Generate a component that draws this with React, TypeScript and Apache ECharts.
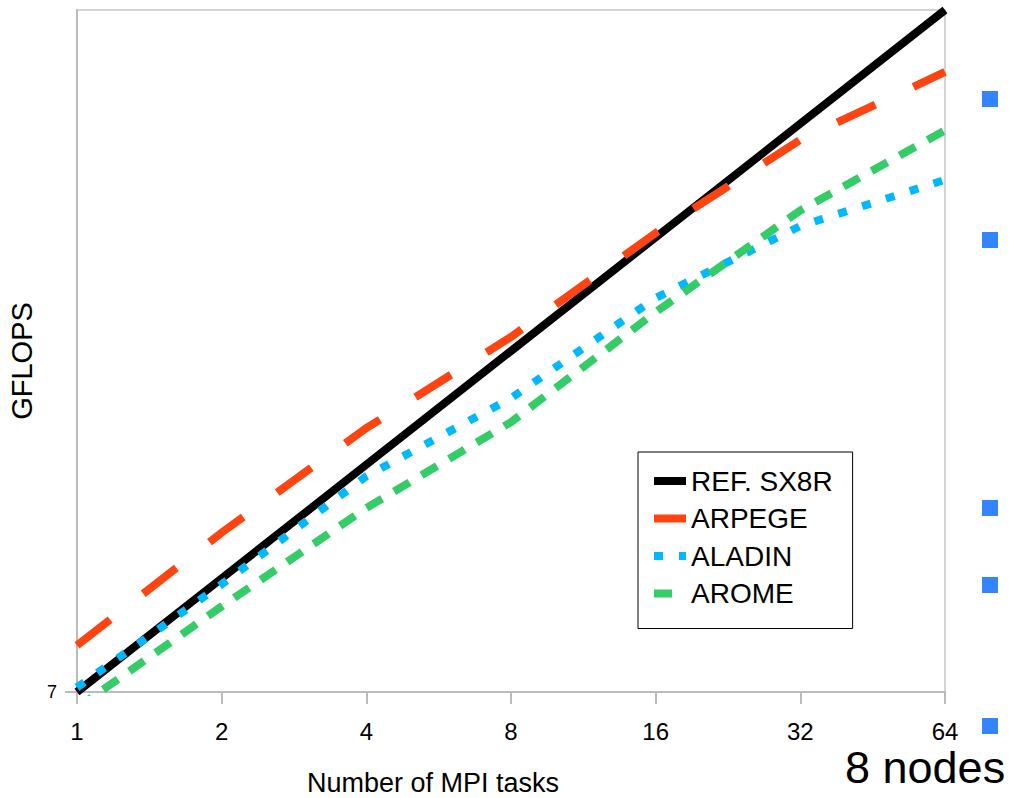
import React, { useEffect, useRef } from "react";
import * as echarts from "echarts";

const tasks = [1, 2, 4, 8, 16, 32, 64];
const refSX8R = [7, 14, 28, 56, 112, 224, 448];
const arpege = [9.3, 18.5, 35.0, 61.0, 115.0, 203.0, 307.0];
const aladin = [7.2, 13.5, 26.1, 42.0, 77.4, 120.0, 159.0];
const arome = [6.35, 11.8, 21.5, 36.3, 71.0, 132.0, 215.0];
const xTickLabels = [1, 2, 4, 8, 16, 32, 64];
const yTickLabels = [7];
const seriesNames = ["REF. SX8R", "ARPEGE", "ALADIN", "AROME"];
const markerRowsY = [99, 240, 508, 585, 726];

const FONT = "Liberation Sans, Arial, sans-serif";

export default function App() {
  const ref = useRef<HTMLDivElement>(null);
  useEffect(() => {
    if (!ref.current) return;
    const chart = echarts.init(ref.current, undefined, { renderer: "svg" });
    const pairs = (vals: number[]) => tasks.map((t, i) => [t, vals[i]]);
    const mk = (name: string, vals: number[], color: string, type: any) => ({
      name,
      type: "line",
      data: pairs(vals),
      showSymbol: false,
      symbol: "none",
      clip: true,
      lineStyle: { color, width: 8, type, cap: "butt", join: "miter" },
      itemStyle: { color },
      emphasis: { disabled: true },
    });
    chart.setOption({
      animation: false,
      textStyle: { fontFamily: FONT },
      grid: {
        left: 77,
        top: 10,
        right: 72,
        bottom: 106,
        containLabel: false,
        outerBoundsMode: "none",
        show: true,
        borderColor: "#d4d4d4",
        borderWidth: 2,
        backgroundColor: "transparent",
      },
      legend: {
        show: true,
        orient: "vertical",
        left: 638,
        top: 452,
        data: seriesNames,
        backgroundColor: "#ffffff",
        borderColor: "#000000",
        borderWidth: 1,
        borderRadius: 0,
        padding: [14, 20, 20, 12],
        itemWidth: 32,
        itemHeight: 14,
        itemGap: 7.5,
        itemStyle: { color: "rgba(0,0,0,0)", borderWidth: 0, opacity: 0 },
        lineStyle: { width: 8 },
        textStyle: { fontSize: 28, lineHeight: 30, color: "#000", fontFamily: FONT },
        selectedMode: false,
      },
      xAxis: {
        type: "log",
        logBase: 2,
        min: 1,
        max: 64,
        name: "Number of MPI tasks",
        nameLocation: "middle",
        nameGap: 77,
        nameTextStyle: { fontSize: 27, color: "#000", fontFamily: FONT, padding: [0, 156, 0, 0] },
        axisLine: { show: true, lineStyle: { color: "#bbbbbb", width: 2 } },
        axisTick: { show: true, length: 12, lineStyle: { color: "#bbbbbb", width: 2 }, customValues: xTickLabels },
        axisLabel: { fontSize: 24, color: "#000", margin: 27, customValues: xTickLabels, fontFamily: FONT },
        splitLine: { show: false },
        minorTick: { show: false },
      },
      yAxis: {
        type: "log",
        logBase: 2,
        min: 7,
        max: 448,
        name: "GFLOPS",
        nameLocation: "middle",
        nameGap: 38,
        nameTextStyle: { fontSize: 29, color: "#000", fontFamily: FONT, padding: [0, 20, 0, 0] },
        axisLine: { show: true, lineStyle: { color: "#bbbbbb", width: 2 } },
        axisTick: { show: true, length: 12, lineStyle: { color: "#bbbbbb", width: 2 }, customValues: yTickLabels },
        axisLabel: {
          fontSize: 18,
          color: "#000",
          margin: 20,
          customValues: yTickLabels,
          fontFamily: FONT,
          formatter: (v: number) => String(Math.round(v)),
        },
        splitLine: { show: false },
      },
      series: [
        mk(seriesNames[0], refSX8R, "#000000", "solid"),
        mk(seriesNames[1], arpege, "#FF4411", [42, 42]),
        mk(seriesNames[2], aladin, "#00B8FF", [9, 16]),
        mk(seriesNames[3], arome, "#33CC66", [18, 14]),
      ],
      graphic: [
        ...markerRowsY.map((cy) => ({
          type: "rect",
          shape: { x: 982, y: cy - 8, width: 16, height: 16 },
          style: { fill: "#3385FF" },
          silent: true,
        })),
        {
          type: "text",
          left: 845,
          top: 745,
          style: { text: "8 nodes", fontSize: 45, fill: "#000", fontFamily: FONT },
          silent: true,
        },
      ],
    });
    return () => chart.dispose();
  }, []);
  return (
    <div
      ref={ref}
      style={{ position: "absolute", left: 0, top: 0, width: 1017, height: 798, background: "#fff" }}
    />
  );
}
